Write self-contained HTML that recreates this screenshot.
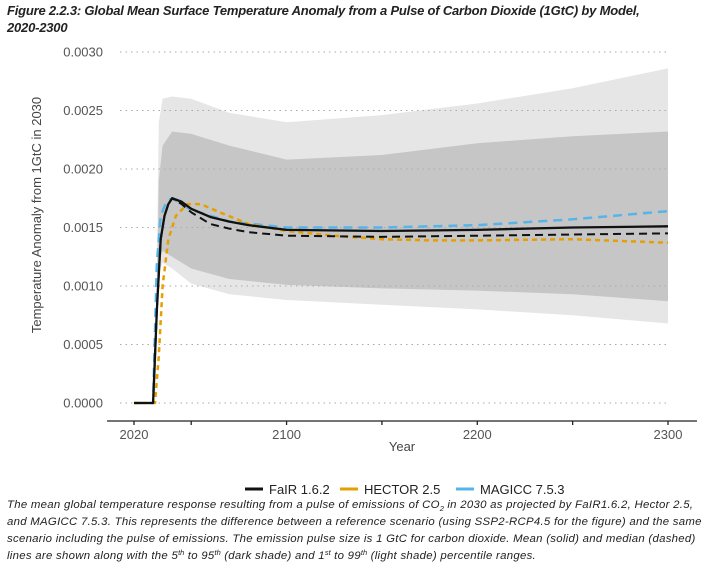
<!DOCTYPE html>
<html><head><meta charset="utf-8">
<style>
body{margin:0;width:718px;height:565px;background:#fff;font-family:"Liberation Sans",sans-serif;overflow:hidden;position:relative}
#title{position:absolute;left:7px;top:2px;width:710px;font-size:13px;font-weight:bold;font-style:italic;color:#222;line-height:17px;letter-spacing:-0.2px}
#caption{position:absolute;left:7px;top:497px;width:712px;font-size:11.4px;font-style:italic;color:#222;line-height:17px;white-space:nowrap;letter-spacing:0.28px}
#caption sub,#caption sup{font-size:7.5px;line-height:0;position:relative;vertical-align:baseline;letter-spacing:0}
#caption sub{top:3px}#caption sup{top:-4px}
svg{position:absolute;left:0;top:0}
</style></head><body>
<div id="title">Figure 2.2.3: Global Mean Surface Temperature Anomaly from a Pulse of Carbon Dioxide (1GtC) by Model,<br>2020-2300</div>
<svg id="chart" width="718" height="500"></svg>
<div id="caption">The mean global temperature response resulting from a pulse of emissions of CO<sub>2</sub> in 2030 as projected by FaIR1.6.2, Hector 2.5,<br>and MAGICC 7.5.3. This represents the difference between a reference scenario (using SSP2-RCP4.5 for the figure) and the same<br>scenario including the pulse of emissions. The emission pulse size is 1 GtC for carbon dioxide. Mean (solid) and median (dashed)<br>lines are shown along with the 5<sup>th</sup> to 95<sup>th</sup> (dark shade) and 1<sup>st</sup> to 99<sup>th</sup> (light shade) percentile ranges.</div>
<script>
const yTicks=[0,0.0005,0.0010,0.0015,0.0020,0.0025,0.0030];
const yTickLabels=["0.0000","0.0005","0.0010","0.0015","0.0020","0.0025","0.0030"];
const xTicks=[2020,2100,2200,2300];
const xMinor=[2050,2150,2250];
const bandYears=[2031,2033,2035,2040,2050,2070,2100,2150,2200,2250,2300];
const lightHi=[0,0.0024,0.0026,0.00262,0.0026,0.00248,0.0024,0.00246,0.00256,0.00269,0.00286];
const lightLo=[0,0.0011,0.0012,0.00115,0.00102,0.00093,0.00088,0.00084,0.0008,0.00075,0.00068];
const darkHi=[0,0.0019,0.0022,0.00232,0.0023,0.0022,0.00208,0.00212,0.00222,0.00228,0.00232];
const darkLo=[0,0.0012,0.0013,0.00125,0.00115,0.00106,0.00101,0.00098,0.00096,0.00093,0.00087];
const fairYears=[2020,2030,2032,2034,2036,2038,2040,2045,2050,2060,2070,2080,2100,2150,2200,2250,2300];
const fairMean=[0,0,0.0008,0.0014,0.0016,0.0017,0.00175,0.00172,0.00166,0.00159,0.00155,0.00152,0.00148,0.00147,0.00148,0.0015,0.00151];
const fairMedian=[0,0,0.0008,0.0014,0.0016,0.0017,0.00175,0.0017,0.00163,0.00153,0.00149,0.00146,0.00143,0.00142,0.00143,0.00144,0.00145];
const hectorYears=[2020,2031,2033,2035,2038,2042,2048,2055,2065,2080,2100,2125,2150,2175,2200,2250,2300];
const hectorVals=[0,0,0.0004,0.001,0.0014,0.0016,0.0017,0.0017,0.00163,0.00153,0.00147,0.00143,0.0014,0.00139,0.00139,0.0014,0.00137];
const magiccYears=[2020,2030,2032,2034,2037,2040,2050,2070,2100,2150,2200,2250,2300];
const magiccVals=[0,0,0.0012,0.0016,0.00172,0.00175,0.00165,0.00155,0.0015,0.0015,0.00152,0.00157,0.00164];

const X=y=>134+(y-2020)*(668-134)/280;
const Y=v=>403-v*(403-52)/0.003;
const svg=document.getElementById('chart');
const NS='http://www.w3.org/2000/svg';
function mk(t,a){const e=document.createElementNS(NS,t);for(const k in a)e.setAttribute(k,a[k]);svg.appendChild(e);return e;}
function band(hi,lo,fill,name){
  let d='M'+bandYears.map((yr,i)=>X(yr)+','+Y(hi[i])).join('L');
  for(let i=bandYears.length-1;i>=0;i--)d+='L'+X(bandYears[i])+','+Y(lo[i]);
  const e=mk('path',{d:d+'Z',fill:fill});
  
  
}
band(lightHi,lightLo,'#e6e6e6','light-percentile-band');
band(darkHi,darkLo,'#c6c6c6','dark-percentile-band');
yTicks.forEach((v,i)=>{
  const g=mk('line',{x1:120,x2:667,y1:Y(v),y2:Y(v),stroke:'#aaa','stroke-width':1,'stroke-dasharray':'1.5 4'});
  
  
  const t=mk('text',{x:103,y:Y(v)+4.5,'text-anchor':'end','font-size':13,fill:'#555'});
  t.textContent=yTickLabels[i];
  
  
});
function line(xs,vs,color,dash,w,name){
  const e=mk('path',{d:'M'+xs.map((yr,i)=>X(yr)+','+Y(vs[i])).join('L'),fill:'none',stroke:color,'stroke-width':w,'stroke-dasharray':dash,'stroke-linejoin':'round'});
  
  
}
line(magiccYears,magiccVals,'#56b4e9','9 6',2.5,'magicc-line');
line(hectorYears,hectorVals,'#e69f00','5 4',2.5,'hector-line');
line(fairYears,fairMedian,'#111','8 5',2,'fair-median-line');
line(fairYears,fairMean,'#111','',2.3,'fair-mean-line');
const ax=mk('line',{x1:107,x2:697,y1:421,y2:421,stroke:'#222','stroke-width':1.3});


xTicks.concat(xMinor).forEach(yr=>{
  const tk=mk('line',{x1:X(yr),x2:X(yr),y1:421,y2:425,stroke:'#222','stroke-width':1.3});
  
  
});
xTicks.forEach(yr=>{
  const t=mk('text',{x:X(yr),y:439,'text-anchor':'middle','font-size':13,fill:'#555'});
  t.textContent=yr;
  
  
});
const xt=mk('text',{x:402,y:451,'text-anchor':'middle','font-size':13,fill:'#444'});
xt.textContent='Year';


const yt=mk('text',{x:0,y:0,'text-anchor':'middle','font-size':13,fill:'#444',transform:'translate(41,215) rotate(-90)'});
yt.textContent='Temperature Anomaly from 1GtC in 2030';


const legend=[['FaIR 1.6.2','#111',245],['HECTOR 2.5','#e69f00',340],['MAGICC 7.5.3','#56b4e9',456]];
legend.forEach(([lab,c,x])=>{
  const l=mk('line',{x1:x,x2:x+18,y1:489,y2:489,stroke:c,'stroke-width':3});
  
  
  const t=mk('text',{x:x+24,y:494,'font-size':13,fill:'#222'});
  t.textContent=lab;
  
  
});
</script>
</body></html>
